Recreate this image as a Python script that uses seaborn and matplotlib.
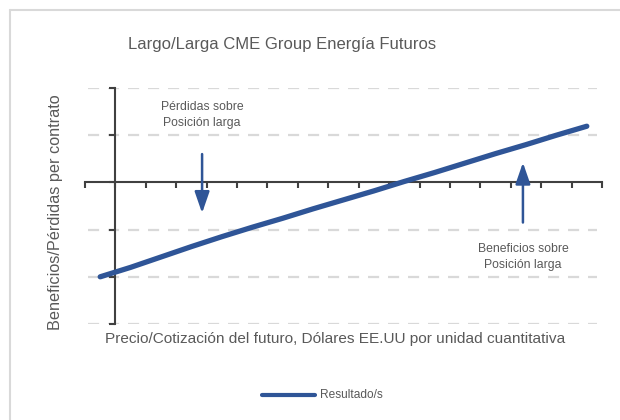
import numpy as np
import pandas as pd
import matplotlib
matplotlib.use("Agg")
import matplotlib.pyplot as plt
from matplotlib.lines import Line2D
import seaborn as sns

# ---- data ----
categories = list(range(1, 18))
resultado = [-2.00, -1.80, -1.58, -1.36, -1.15, -0.95, -0.76, -0.56, -0.37,
             -0.18, 0.02, 0.21, 0.41, 0.61, 0.80, 1.00, 1.19]
y_ticks = [-3, -2, -1, 0, 1, 2]
title = "Largo/Larga CME Group Energía Futuros"
xlabel = "Precio/Cotización del futuro, Dólares EE.UU por unidad cuantitativa"
ylabel = "Beneficios/Pérdidas per contrato"
note_loss = "Pérdidas sobre\nPosición larga"
note_gain = "Beneficios sobre\nPosición larga"
series_name = "Resultado/s"

sns.set_style("white")
plt.rcParams["font.family"] = ["Liberation Sans", "DejaVu Sans"]

BLUE = "#2f5597"
TXT = "#595959"
GRID = "#d9d9d9"
AX = "#404040"

W, H = 620, 420
fig = plt.figure(figsize=(6.2, 4.2), dpi=100)
ax = fig.add_axes([85 / W, 1 - 324 / H, (602 - 85) / W, (324 - 88) / H])

df = pd.DataFrame({"idx": np.arange(len(categories)), "valor": resultado})
sns.lineplot(data=df, x="idx", y="valor", ax=ax, color=BLUE, lw=3.8,
             solid_capstyle="round", label=series_name, legend=False)

n = len(categories)
ax.set_xlim(-0.5, n - 0.5)
ax.set_ylim(min(y_ticks), max(y_ticks))

# dashed gridlines
for yv in y_ticks:
    if yv != 0:
        ax.axhline(yv, xmin=0.005, xmax=0.99, color=GRID, lw=1.6,
                   ls=(0, (5, 4)), zorder=0)

for s in ["top", "right"]:
    ax.spines[s].set_visible(False)
ax.spines["left"].set_position(("data", 0.5))
ax.spines["bottom"].set_position(("data", 0))
for s in ["left", "bottom"]:
    ax.spines[s].set_color(AX)
    ax.spines[s].set_linewidth(1.5)
    ax.spines[s].set_zorder(1)

ax.set_yticks(y_ticks)
ax.set_yticklabels([])
ax.set_xticks(np.arange(-0.5, n, 1.0))
ax.set_xticklabels([])
ax.tick_params(axis="both", direction="out", length=4.5, width=1.5, color=AX,
               bottom=True, left=True)
ax.set_xlabel("")
ax.set_ylabel("")

# arrows
arrow_style = "-|>,head_width=0.45,head_length=1.3"
ax.annotate("", xy=(3.35, -0.65), xytext=(3.35, 0.6),
            arrowprops=dict(arrowstyle=arrow_style, color=BLUE, lw=1.8,
                            shrinkA=0, shrinkB=0))
ax.annotate("", xy=(13.9, 0.42), xytext=(13.9, -0.85),
            arrowprops=dict(arrowstyle=arrow_style, color=BLUE, lw=1.8,
                            shrinkA=0, shrinkB=0))
ax.text(3.35, 1.43, note_loss, ha="center", va="center", fontsize=8.8,
        color=TXT, linespacing=1.45)
ax.text(13.9, -1.58, note_gain, ha="center", va="center", fontsize=8.8,
        color=TXT, linespacing=1.45)

# titles / labels
fig.text(282 / W, 1 - 45 / H, title, ha="center", va="center",
         fontsize=12, color=TXT)
fig.text(335 / W, 1 - 339 / H, xlabel, ha="center", va="center",
         fontsize=11.1, color=TXT)
fig.text(56 / W, 1 - 212 / H, ylabel, ha="center", va="center",
         fontsize=11.7, color=TXT, rotation=90)

# legend
fig.add_artist(Line2D([262 / W, 315 / W], [1 - 395 / H, 1 - 395 / H],
                      color=BLUE, lw=3.0, transform=fig.transFigure))
fig.text(320 / W, 1 - 395 / H, series_name, ha="left", va="center",
         fontsize=8.6, color=TXT)

# chart area border (top/left visible)
fig.add_artist(Line2D([10 / W, 10 / W], [0, 1 - 10 / H], color=GRID, lw=1.5,
                      transform=fig.transFigure))
fig.add_artist(Line2D([10 / W, 1], [1 - 10 / H, 1 - 10 / H], color=GRID, lw=1.5,
                      transform=fig.transFigure))

fig.savefig("out.png", dpi=100)
